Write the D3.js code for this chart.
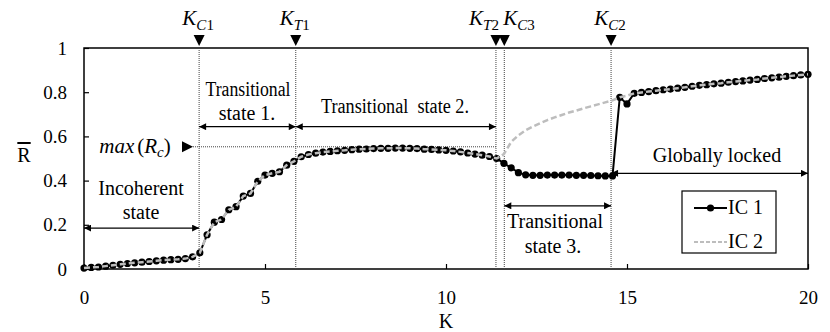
<!DOCTYPE html>
<html>
<head>
<meta charset="utf-8">
<script src="https://cdn.jsdelivr.net/npm/d3@7"></script>
</head>
<body style="margin:0">
<div id="chart"></div>
<script>
// coupling strength K (x)
var kValues = [0, 0.2, 0.4, 0.6, 0.8, 1, 1.2, 1.4, 1.6, 1.8, 2, 2.2, 2.4, 2.6, 2.8, 3, 3.2, 3.4, 3.6, 3.8,
  4, 4.2, 4.4, 4.6, 4.8, 5, 5.2, 5.4, 5.6, 5.8, 6, 6.2, 6.4, 6.6, 6.8, 7, 7.2, 7.4, 7.6, 7.8,
  8, 8.2, 8.4, 8.6, 8.8, 9, 9.2, 9.4, 9.6, 9.8, 10, 10.2, 10.4, 10.6, 10.8, 11, 11.2, 11.4, 11.6, 11.8,
  12, 12.2, 12.4, 12.6, 12.8, 13, 13.2, 13.4, 13.6, 13.8, 14, 14.2, 14.4, 14.6, 14.8, 15, 15.2, 15.4, 15.6, 15.8,
  16, 16.2, 16.4, 16.6, 16.8, 17, 17.2, 17.4, 17.6, 17.8, 18, 18.2, 18.4, 18.6, 18.8, 19, 19.2, 19.4, 19.6, 19.8, 20];

// mean order parameter, initial condition 1
var ic1 = [0.004, 0.007, 0.009, 0.013, 0.017, 0.021, 0.025, 0.028, 0.031, 0.034, 0.037, 0.040, 0.042, 0.044, 0.047, 0.055,
  0.073, 0.155, 0.212, 0.224, 0.268, 0.282, 0.330, 0.342, 0.397, 0.425, 0.433, 0.440, 0.470, 0.487,
  0.508, 0.518, 0.524, 0.529, 0.532, 0.535, 0.537, 0.540, 0.542, 0.543, 0.545, 0.546, 0.546, 0.547, 0.547,
  0.546, 0.545, 0.542, 0.541, 0.539, 0.537, 0.534, 0.530, 0.525, 0.520, 0.515, 0.509, 0.500,
  0.478, 0.458, 0.436, 0.426, 0.424, 0.424, 0.425, 0.425, 0.425, 0.425, 0.424, 0.424, 0.423, 0.422, 0.421, 0.421,
  0.777, 0.747, 0.795, 0.799, 0.803, 0.807, 0.811, 0.814, 0.818, 0.822, 0.827, 0.831, 0.834, 0.838, 0.841,
  0.845, 0.848, 0.851, 0.855, 0.858, 0.862, 0.865, 0.868, 0.872, 0.875, 0.878, 0.881];

// initial condition 2
var ic2 = [0.004, 0.007, 0.009, 0.013, 0.017, 0.021, 0.025, 0.028, 0.031, 0.034, 0.037, 0.040, 0.042, 0.044, 0.047, 0.055,
  0.073, 0.155, 0.212, 0.224, 0.268, 0.282, 0.330, 0.342, 0.397, 0.425, 0.433, 0.440, 0.470, 0.487,
  0.508, 0.518, 0.524, 0.529, 0.532, 0.535, 0.537, 0.540, 0.542, 0.543, 0.545, 0.546, 0.546, 0.547, 0.547,
  0.546, 0.545, 0.542, 0.541, 0.539, 0.537, 0.534, 0.530, 0.525, 0.520, 0.515, 0.509, 0.500,
  0.520, 0.575, 0.605, 0.628, 0.645, 0.660, 0.674, 0.686, 0.697, 0.708, 0.717, 0.727, 0.736, 0.745, 0.754, 0.763,
  0.777, 0.784, 0.795, 0.799, 0.803, 0.807, 0.811, 0.814, 0.818, 0.822, 0.827, 0.831, 0.834, 0.838, 0.841,
  0.845, 0.848, 0.851, 0.855, 0.858, 0.862, 0.865, 0.868, 0.872, 0.875, 0.878, 0.881];

var xTicks = [0, 5, 10, 15, 20];
var yTicks = [0, 0.2, 0.4, 0.6, 0.8, 1];

// critical couplings marked on top
var markers = [
  {name: "K", sub: "C1", k: 3.18, anchor: "middle"},
  {name: "K", sub: "T1", k: 5.85, anchor: "middle"},
  {name: "K", sub: "T2", k: 11.38, anchor: "end"},
  {name: "K", sub: "C3", k: 11.61, anchor: "start"},
  {name: "K", sub: "C2", k: 14.56, anchor: "middle"}
];
var maxRc = 0.553;

var FONT = "'Liberation Serif', 'Times New Roman', serif";
var W = 830, H = 332;
var x = d3.scaleLinear().domain([0, 20]).range([84, 808]);
var y = d3.scaleLinear().domain([0, 1]).range([269, 48]);

var svg = d3.select("#chart").append("svg")
  .attr("width", W).attr("height", H);

var defs = svg.append("defs");
defs.append("marker")
  .attr("id", "ah")
  .attr("viewBox", "0 0 10 10")
  .attr("refX", 10).attr("refY", 5)
  .attr("markerWidth", 9).attr("markerHeight", 7)
  .attr("markerUnits", "userSpaceOnUse")
  .attr("orient", "auto-start-reverse")
  .append("path").attr("d", "M0,0 L10,5 L0,10 z").attr("fill", "#000");

// axes (ticks point inward)
svg.append("g")
  .attr("transform", "translate(0," + y(0) + ")")
  .call(d3.axisBottom(x).tickValues(xTicks).tickSizeInner(-5).tickSizeOuter(0).tickPadding(22))
  .call(function(g) { g.select(".domain").remove(); })
  .attr("font-family", FONT)
  .selectAll("text").attr("font-size", 19).attr("font-family", FONT);

svg.append("g")
  .attr("transform", "translate(" + x(0) + ",0)")
  .call(d3.axisLeft(y).tickValues(yTicks).tickFormat(d3.format("")).tickSizeInner(-5).tickSizeOuter(0).tickPadding(17))
  .call(function(g) { g.select(".domain").remove(); })
  .attr("font-family", FONT)
  .selectAll("text").attr("font-size", 19).attr("font-family", FONT);

svg.selectAll(".tick line").attr("stroke", "#000").attr("stroke-width", 1.2);

svg.append("rect")
  .attr("x", x(0)).attr("y", y(1))
  .attr("width", x(20) - x(0)).attr("height", y(0) - y(1))
  .attr("fill", "none").attr("stroke", "#000").attr("stroke-width", 1.5);

// plain text helper
function txt(px, py, s, size, anchor) {
  return svg.append("text").attr("x", px).attr("y", py)
    .attr("text-anchor", anchor || "middle")
    .attr("font-family", FONT).attr("font-size", size).text(s);
}

// axis titles
txt(446, 328, "K", 20);
txt(24, 162, "R", 20).style("text-decoration", "overline");

// vertical dotted lines + triangles + labels
markers.forEach(function(m) {
  var px = x(m.k);
  svg.append("line")
    .attr("x1", px).attr("x2", px).attr("y1", y(1)).attr("y2", y(0))
    .attr("stroke", "#444").attr("stroke-width", 1).attr("stroke-dasharray", "1,1");
  svg.append("path")
    .attr("d", "M" + (px - 5.5) + ",35 L" + (px + 5.5) + ",35 L" + px + ",46 z")
    .attr("fill", "#000");
  var lx = m.anchor === "end" ? px + 3 : px - 1;
  var t = svg.append("text").attr("x", lx).attr("y", 25)
    .attr("font-family", FONT).attr("text-anchor", m.anchor);
  t.append("tspan").attr("font-style", "italic").attr("font-size", 21).text(m.name);
  t.append("tspan").attr("dy", 5).attr("font-size", 15).attr("font-style", "italic")
    .text(m.sub.charAt(0));
  t.append("tspan").attr("font-size", 15).text(m.sub.slice(1));
});

// max(Rc) marker
svg.append("line")
  .attr("x1", 193).attr("x2", x(11.38)).attr("y1", y(maxRc)).attr("y2", y(maxRc))
  .attr("stroke", "#444").attr("stroke-width", 1).attr("stroke-dasharray", "1,1");
svg.append("path")
  .attr("d", "M182," + (y(maxRc) - 5.5) + " L193," + y(maxRc) + " L182," + (y(maxRc) + 5.5) + " z")
  .attr("fill", "#000");
var mt = svg.append("text").attr("x", 135).attr("y", y(maxRc) + 6)
  .attr("font-family", FONT).attr("text-anchor", "middle").attr("font-size", 21);
mt.append("tspan").attr("font-style", "italic").text("max");
mt.append("tspan").attr("dx", 3).text("(");
mt.append("tspan").attr("font-style", "italic").text("R");
mt.append("tspan").attr("font-style", "italic").attr("font-size", 15).attr("dy", 4).text("c");
mt.append("tspan").attr("dy", -4).text(")");

// region arrows
function dblArrow(k0, k1, r) {
  svg.append("line")
    .attr("x1", x(k0)).attr("x2", x(k1)).attr("y1", y(r)).attr("y2", y(r))
    .attr("stroke", "#000").attr("stroke-width", 1.2)
    .attr("marker-start", "url(#ah)").attr("marker-end", "url(#ah)");
}
dblArrow(0, 3.18, 0.185);
dblArrow(3.18, 5.85, 0.644);
dblArrow(5.85, 11.38, 0.644);
dblArrow(11.61, 14.56, 0.286);
dblArrow(14.56, 20, 0.433);

txt(141, 195, "Incoherent", 20);
txt(141, 219, "state", 20);
txt(248, 96, "Transitional", 20).attr("textLength", 85).attr("lengthAdjust", "spacingAndGlyphs");
txt(247, 120, "state 1.", 20);
txt(395, 113, "Transitional\u00a0 state 2.", 20).attr("textLength", 148).attr("lengthAdjust", "spacingAndGlyphs");
txt(555, 228, "Transitional", 20);
txt(553, 253, "state 3.", 20);
txt(717, 162, "Globally locked", 20);

// series
var line = d3.line()
  .x(function(d) { return x(d[0]); })
  .y(function(d) { return y(d[1]); });
var d1 = kValues.map(function(k, i) { return [k, ic1[i]]; });
var d2 = kValues.map(function(k, i) { return [k, ic2[i]]; });

svg.append("path").datum(d1).attr("d", line)
  .attr("fill", "none").attr("stroke", "#000").attr("stroke-width", 2);
svg.append("g").selectAll("circle").data(d1).enter().append("circle")
  .attr("cx", function(d) { return x(d[0]); })
  .attr("cy", function(d) { return y(d[1]); })
  .attr("r", 3.6).attr("fill", "#000");
svg.append("path").datum(d2).attr("d", line)
  .attr("fill", "none").attr("stroke", "#bdbdbd").attr("stroke-width", 2.5)
  .attr("stroke-dasharray", "6,3");

// legend
svg.append("rect").attr("x", 682).attr("y", 191).attr("width", 94).attr("height", 62)
  .attr("fill", "#fff").attr("stroke", "#000").attr("stroke-width", 1.2);
svg.append("line").attr("x1", 694).attr("x2", 727).attr("y1", 208).attr("y2", 208)
  .attr("stroke", "#000").attr("stroke-width", 2);
svg.append("circle").attr("cx", 710.5).attr("cy", 208).attr("r", 3.6).attr("fill", "#000");
svg.append("line").attr("x1", 694).attr("x2", 727).attr("y1", 242).attr("y2", 242)
  .attr("stroke", "#bdbdbd").attr("stroke-width", 2).attr("stroke-dasharray", "4,2");
txt(728, 214, "IC 1", 20, "start");
txt(728, 248, "IC 2", 20, "start");
</script>
</body>
</html>
